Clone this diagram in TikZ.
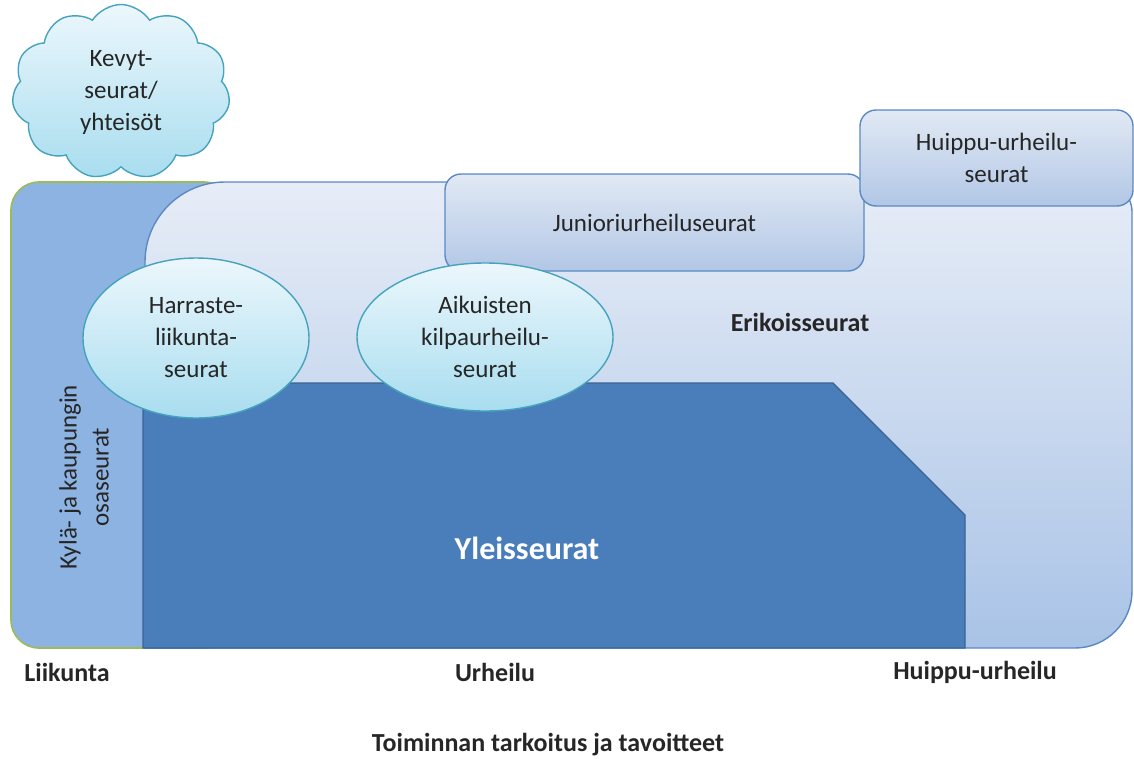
\documentclass[tikz,border=0pt]{standalone}
\usepackage{fontspec}
\setmainfont{Carlito}
\usetikzlibrary{shapes.geometric,shapes.symbols}

\definecolor{kylafill}{HTML}{8DB3E2}
\definecolor{kylaline}{HTML}{9BBB59}
\definecolor{erikoistop}{HTML}{E7EDF7}
\definecolor{erikoisbot}{HTML}{A9C3E6}
\definecolor{boxline}{HTML}{5B89C4}
\definecolor{yleisfill}{HTML}{4A7EBB}
\definecolor{yleisline}{HTML}{3A6394}
\definecolor{boxtop}{HTML}{E1E9F4}
\definecolor{boxbot}{HTML}{B2C7E6}
\definecolor{balltop}{HTML}{ECF7FC}
\definecolor{ballbot}{HTML}{A8DDEF}
\definecolor{ballline}{HTML}{46A3BD}
\definecolor{labeltext}{HTML}{262626}

\tikzset{
  clubtext/.style={text=labeltext, font=\fontsize{25}{32}\selectfont, align=center},
  clubbox/.style={clubtext, rectangle, rounded corners=16, draw=boxline, line width=1.4,
    top color=boxtop, bottom color=boxbot, inner sep=0},
  clubellipse/.style={clubtext, ellipse, draw=ballline, line width=1.4,
    top color=balltop, bottom color=ballbot, inner sep=0},
  axislabel/.style={text=labeltext, font=\fontsize{26}{30}\selectfont\bfseries}
}

\begin{document}
\begin{tikzpicture}[x=1pt, y=-1pt]
  \useasboundingbox (0,0) rectangle (1134,758);

  % Drawing the village and town clubs box
  \draw[fill=kylafill, draw=kylaline, line width=1.6, rounded corners=28]
    (11,182) rectangle (232,648);

  % Drawing the special clubs area
  \draw[draw=boxline, line width=1.4, top color=erikoistop, bottom color=erikoisbot]
    (145,648) -- (145,262) arc (180:270:80) -- (1102,182) arc (270:360:30)
    -- (1132,591) arc (0:90:57) -- cycle;

  % Drawing the general clubs area
  \draw[fill=yleisfill, draw=yleisline, line width=1.4]
    (143,648) -- (143,383) -- (833,383) -- (965,515) -- (965,648) -- cycle;

  % Boxes on top
  \node[clubbox, minimum width=419, minimum height=97] (junior) at (654.5,222.5)
    {Junioriurheiluseurat};
  \node[clubbox, minimum width=273, minimum height=96] (huippu) at (996.5,158)
    {Huippu-urheilu-\\seurat};

  % Ellipses
  \node[clubellipse, minimum width=226, minimum height=160] (harraste) at (196,338)
    {Harraste-\\liikunta-\\seurat};
  \node[clubellipse, minimum width=256, minimum height=148] (aikuiset) at (485,337)
    {Aikuisten\\kilpaurheilu-\\seurat};

  % Cloud
  \node[clubtext, cloud, cloud puffs=11, cloud puff arc=115, aspect=1.2,
    minimum width=218, minimum height=175, inner sep=0, draw=ballline, line width=1.4,
    top color=balltop, bottom color=ballbot] (kevyt) at (121,92)
    {Kevyt-\\seurat/\\yhteisöt};

  % Texts in the areas
  \node[clubtext, rotate=90] (kyla) at (84,477) {Kylä- ja kaupungin\\osaseurat};
  \node[axislabel] (erikois) at (800,322) {Erikoisseurat};
  \node[axislabel, text=white, font=\fontsize{32}{36}\selectfont\bfseries] (yleis) at (527,548)
    {Yleisseurat};

  % Axis labels
  \node[axislabel] (liikunta) at (67,672) {Liikunta};
  \node[axislabel] (urheilu) at (495,672) {Urheilu};
  \node[axislabel] (huippuurheilu) at (975,672) {Huippu-urheilu};
  \node[axislabel] (tavoitteet) at (548,745) {Toiminnan tarkoitus ja tavoitteet};
\end{tikzpicture}
\end{document}
